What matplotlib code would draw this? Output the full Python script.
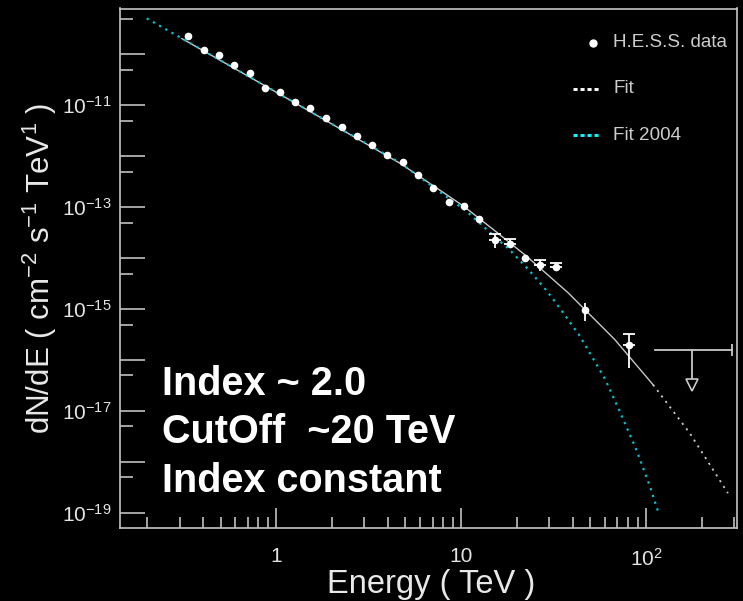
import math
import matplotlib
matplotlib.use('Agg')
import matplotlib.pyplot as plt
from matplotlib.ticker import FixedLocator, FuncFormatter, NullFormatter

plt.rcParams['font.family'] = ['Liberation Sans', 'DejaVu Sans']
plt.rcParams['mathtext.fontset'] = 'custom'
plt.rcParams['mathtext.rm'] = 'Liberation Sans'
plt.rcParams['mathtext.it'] = 'Liberation Sans'
plt.rcParams['mathtext.default'] = 'regular'

# ---------------- data ----------------
energy = [0.334, 0.407, 0.492, 0.593, 0.718, 0.866, 1.05, 1.27, 1.53, 1.86,
          2.26, 2.72, 3.30, 3.98, 4.82, 5.81, 7.06, 8.55, 10.3, 12.5,
          15.2, 18.3, 22.1, 26.6, 32.5, 47.0, 80.6]
flux = [2.30e-10, 1.22e-10, 9.6e-11, 6.1e-11, 4.38e-11, 2.19e-11, 1.82e-11, 1.16e-11, 8.85e-12, 5.73e-12,
        3.75e-12, 2.49e-12, 1.64e-12, 1.04e-12, 7.7e-13, 4.35e-13, 2.34e-13, 1.26e-13, 1.05e-13, 5.75e-14,
        2.23e-14, 1.86e-14, 9.86e-15, 7.29e-15, 6.65e-15, 9.82e-16, 2.02e-16]
# error-bar ends (only the last bins have bars longer than the marker)
flux_hi = [2.30e-10, 1.22e-10, 9.6e-11, 6.1e-11, 4.38e-11, 2.19e-11, 1.82e-11, 1.16e-11, 8.85e-12, 5.73e-12,
           3.75e-12, 2.49e-12, 1.64e-12, 1.04e-12, 7.7e-13, 4.35e-13, 2.34e-13, 1.26e-13, 1.05e-13, 5.75e-14,
           2.92e-14, 2.33e-14, 9.86e-15, 9.42e-15, 8.13e-15, 1.33e-15, 3.32e-16]
flux_lo = [2.30e-10, 1.22e-10, 9.6e-11, 6.1e-11, 4.38e-11, 2.19e-11, 1.82e-11, 1.16e-11, 8.85e-12, 5.73e-12,
           3.75e-12, 2.49e-12, 1.64e-12, 1.04e-12, 7.7e-13, 4.35e-13, 2.34e-13, 1.26e-13, 1.05e-13, 5.75e-14,
           1.60e-14, 1.55e-14, 9.86e-15, 5.73e-15, 5.6e-15, 5.78e-16, 7.03e-17]
capped = [False] * 20 + [True, True, False, True, True, False, True]

# upper limit (last bin)
ul_energy = 176.0
ul_energy_lo = 111.0
ul_energy_hi = 292.0
ul_flux = 1.61e-16

# "Fit" curve (white)
fit_energy = [0.309, 0.721, 1.72, 4.66, 10.3, 14.9, 22.6, 37.9, 67.7, 109.0, 172.0, 277.0]
fit_flux = [2.03e-10, 3.55e-11, 5.86e-12, 7.3e-13, 1.05e-13, 3.66e-14, 1.09e-14, 2.09e-15,
            2.53e-16, 3.30e-17, 3.72e-18, 2.46e-19]
fit_solid_end = 10  # points up to here drawn solid, rest dotted

# "Fit 2004" curve (cyan)
fit04_energy = [0.1995, 0.721, 1.72, 4.66, 10.7, 14.6, 18.3, 23.5, 29.0, 34.2, 43.9, 59.9,
                72.1, 88.8, 105.0, 116.0]
fit04_flux = [5.05e-10, 3.55e-11, 5.86e-12, 7.49e-13, 8.3e-14, 3.0e-14, 1.46e-14, 5.6e-15,
              2.3e-15, 1.04e-15, 2.94e-16, 4.3e-17, 9.8e-18, 1.7e-18, 3.3e-19, 1.08e-19]

x_major = [1, 10, 100]
x_labels = ['1', '10', '$10^{2}$']
y_major_exp = list(range(-19, -9))
y_label_exp = [-11, -13, -15, -17, -19]

annotation_lines = ['Index ~ 2.0', 'CutOff  ~20 TeV', 'Index constant']

# ---------------- figure ----------------
fig = plt.figure(figsize=(7.43, 6.01), dpi=100, facecolor='black')
ax = fig.add_axes([120 / 743, 1 - 528 / 601, 617 / 743, 519.5 / 601])
ax.set_facecolor('black')
ax.set_xscale('log')
ax.set_yscale('log')
ax.set_xlim(0.143, 310)
ax.set_ylim(5.1e-20, 7.9e-10)

fg = '#d2d2d2'
for s in ax.spines.values():
    s.set_color('#c4c4c4')
    s.set_linewidth(1.2)

# fit 2004 (cyan dotted)
ax.plot(fit04_energy, fit04_flux, color='#00c4d4', lw=1.6, linestyle=(0, (1.0, 2.2)), zorder=3)
# fit (white): solid in fit range, dotted extrapolation
ax.plot(fit_energy[:fit_solid_end], fit_flux[:fit_solid_end], color='#c8c8c8', lw=1.0, zorder=2)
ax.plot(fit_energy[fit_solid_end - 1:], fit_flux[fit_solid_end - 1:], color='#c8c8c8', lw=1.3,
        linestyle=(0, (1.2, 2.6)), zorder=2)

# data points with error bars
for e, f, h, l, c in zip(energy, flux, flux_hi, flux_lo, capped):
    if h > f:
        ax.errorbar([e], [f], yerr=[[0.0], [h - f]], fmt='none', ecolor='white', elinewidth=1.3,
                    capsize=4 if c else 0, capthick=1.3, zorder=4)
    if l < f:
        ax.errorbar([e], [f], yerr=[[f - l], [0.0]], fmt='none', ecolor='white', elinewidth=1.3,
                    capsize=0, zorder=4)
ax.plot(energy, flux, 'o', color='white', markersize=5.5, markeredgewidth=0, zorder=5)

# upper limit
ax.plot([ul_energy_lo, ul_energy_hi], [ul_flux, ul_flux], color='#c8c8c8', lw=1.3, zorder=4)
ax.plot([ul_energy_hi], [ul_flux], marker='|', color='#c8c8c8', markersize=8, markeredgewidth=1.3, zorder=4)
ax.plot([ul_energy, ul_energy], [ul_flux, ul_flux / 3.9], color='#c8c8c8', lw=1.3, zorder=4)
ax.plot([ul_energy], [ul_flux / 5.0], marker='v', markersize=8, markerfacecolor='black',
        markeredgecolor='#c8c8c8', markeredgewidth=1.2, zorder=5)

# ticks
ax.xaxis.set_major_locator(FixedLocator(x_major))
ax.xaxis.set_major_formatter(FuncFormatter(
    lambda v, p: x_labels[x_major.index(round(v))] if round(v) in x_major else ''))
x_minor = [m * 10.0 ** e for e in (-1, 0, 1, 2) for m in range(2, 10)]
ax.xaxis.set_minor_locator(FixedLocator(x_minor))
ax.xaxis.set_minor_formatter(NullFormatter())

y_major = [10.0 ** e for e in y_major_exp]
ax.yaxis.set_major_locator(FixedLocator(y_major))


def yfmt(v, p):
    e = int(round(math.log10(v)))
    return '$10^{%d}$' % e if e in y_label_exp else ''


ax.yaxis.set_major_formatter(FuncFormatter(yfmt))
ax.yaxis.set_minor_locator(FixedLocator([5 * 10.0 ** e for e in range(-20, -9)]))
ax.yaxis.set_minor_formatter(NullFormatter())

ax.tick_params(axis='both', which='both', direction='in', colors=fg, labelcolor='#e4e4e4', width=1.1)
ax.tick_params(axis='y', which='major', length=18, pad=6, labelsize=15)
ax.tick_params(axis='y', which='minor', length=9.5)
ax.tick_params(axis='x', which='major', length=14.5, pad=14, labelsize=15)
ax.tick_params(axis='x', which='minor', length=8)
ax.tick_params(top=False, right=False, which='both')

# axis titles
fig.text(431 / 743, 1 - 593 / 601, 'Energy ( TeV )', color='#e8e8e8', fontsize=23.5,
         ha='center', va='baseline')
fig.text(50 / 743, 1 - 268 / 601, 'dN/dE ( cm$^{-2}$ s$^{-1}$ TeV$^{1}$ )', color='#e8e8e8',
         fontsize=22.5, rotation=90, rotation_mode='anchor', ha='center', va='baseline')

# legend (drawn manually, no frame)
ax.plot([0.767], [0.934], 'o', color='white', markersize=5, transform=ax.transAxes, zorder=6)
ax.plot([0.734, 0.779], [0.846, 0.846], color='white', lw=2.1, linestyle=(0, (1.4, 1.0)),
        transform=ax.transAxes, zorder=6)
ax.plot([0.734, 0.779], [0.756, 0.756], color='#00ffff', lw=2.1, linestyle=(0, (1.4, 1.0)),
        transform=ax.transAxes, zorder=6)
leg_kw = dict(color='#cccccc', fontsize=13.6, transform=ax.transAxes, va='center', ha='left')
ax.text(0.7995, 0.934, 'H.E.S.S. data', **leg_kw)
ax.text(0.7995, 0.846, 'Fit', **leg_kw)
ax.text(0.7995, 0.756, 'Fit 2004', **leg_kw)

# annotation
for txt, yb in zip(annotation_lines, [0.256, 0.163, 0.070]):
    ax.text(0.0676, yb, txt, color='white', fontsize=28.5, fontweight='bold',
            transform=ax.transAxes, ha='left', va='baseline')

fig.savefig('out.png', dpi=100, facecolor='black')
